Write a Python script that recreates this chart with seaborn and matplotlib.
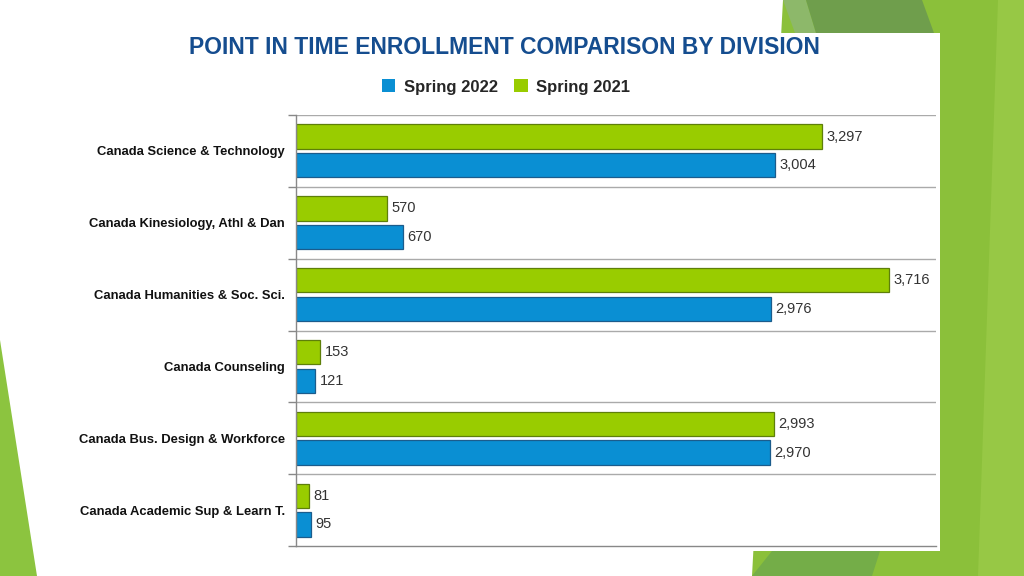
import matplotlib
matplotlib.use("Agg")
import matplotlib.pyplot as plt
import seaborn as sns
import pandas as pd
import numpy as np
from matplotlib.patches import Polygon, Rectangle, Patch

divisions = [
    "Canada Science & Technology",
    "Canada Kinesiology, Athl & Dan",
    "Canada Humanities & Soc. Sci.",
    "Canada Counseling",
    "Canada Bus. Design & Workforce",
    "Canada Academic Sup & Learn T.",
]
spring_2022 = [3004, 670, 2976, 121, 2970, 95]
spring_2021 = [3297, 570, 3716, 153, 2993, 81]
series_names = ["Spring 2022", "Spring 2021"]
colors = {"Spring 2022": "#0A8FD3", "Spring 2021": "#99CC00"}
edges = {"Spring 2022": "#1B5C8C", "Spring 2021": "#5E7F0A"}

df = pd.DataFrame({
    "Division": divisions * 2,
    "Term": ["Spring 2021"] * len(divisions) + ["Spring 2022"] * len(divisions),
    "Enrollment": spring_2021 + spring_2022,
})

sns.set_theme(style="white")
plt.rcParams["font.family"] = ["Liberation Sans", "DejaVu Sans"]

W, H = 1024, 576
fig = plt.figure(figsize=(W / 100, H / 100), dpi=100)
fig.patch.set_facecolor("white")

def px(pts):
    return [(x / W, 1 - y / H) for x, y in pts]

# slide decorations
deco = [
    ([(783, 0), (1024, 0), (1024, 576), (752, 576)], "#8BC03A"),
    ([(783, 0), (806, 0), (816, 33), (795, 33)], "#8DB86A"),
    ([(806, 0), (922, 0), (934, 33), (816, 33)], "#6F9E4C"),
    ([(998, 0), (1024, 0), (1024, 576), (978, 576)], "#97C845"),
    ([(752, 576), (772, 551), (880, 551), (872, 576)], "#74AD48"),
    ([(0, 340), (37, 576), (0, 576)], "#8CC43F"),
]
for pts, c in deco:
    fig.add_artist(Polygon(px(pts), closed=True, transform=fig.transFigure,
                           facecolor=c, edgecolor="none", zorder=0))
fig.add_artist(Rectangle((40 / W, 1 - 551 / H), (940 - 40) / W, (551 - 33) / H,
                         transform=fig.transFigure, facecolor="white",
                         edgecolor="none", zorder=0.5))

ax = fig.add_axes([296 / W, 1 - 546 / H, (936 - 296) / W, (546 - 115) / H])
ax.set_zorder(2)
ax.patch.set_alpha(0)

sns.barplot(data=df, y="Division", x="Enrollment", hue="Term",
            hue_order=["Spring 2021", "Spring 2022"],
            order=divisions, palette=colors, orient="h", saturation=1,
            width=0.8, gap=0.15, ax=ax, legend=False)

for cont, term in zip(ax.containers, ["Spring 2021", "Spring 2022"]):
    for bar in cont:
        bar.set_edgecolor(edges[term])
        bar.set_linewidth(0.9)
    ax.bar_label(cont, labels=[f"{v.get_width():,.0f}" for v in cont],
                 padding=3, fontsize=10.5, color="#333333")

ax.set_xlim(0, 4010)
ax.set_ylim(len(divisions) - 0.5, -0.5)
ax.set_xlabel("")
ax.set_ylabel("")
ax.set_xticks([])
for s in ["top", "right"]:
    ax.spines[s].set_visible(False)
ax.spines["left"].set_color("#888888")
ax.spines["bottom"].set_color("#888888")
ax.spines["left"].set_linewidth(1)
ax.spines["bottom"].set_linewidth(1)

bounds = np.arange(-0.5, len(divisions), 1.0)
for b in bounds[:-1]:
    ax.axhline(b, color="#AAAAAA", lw=1, zorder=0)
ax.set_yticks(bounds, minor=True)
ax.tick_params(axis="y", which="minor", length=6, color="#888888", width=1, left=True)
ax.tick_params(axis="y", which="major", length=0, pad=8)
for lbl in ax.get_yticklabels():
    lbl.set_fontweight("bold")
    lbl.set_fontsize(9.4)
    lbl.set_color("#111111")

fig.text(504 / W, 1 - 48 / H, "POINT IN TIME ENROLLMENT COMPARISON BY DIVISION",
         ha="center", va="center", fontsize=16.5, fontweight="bold",
         color="#154D8F")

handles = [Patch(facecolor=colors[n], edgecolor="none") for n in series_names]
fig.legend(handles, series_names, loc="center", bbox_to_anchor=(506 / W, 1 - 87 / H),
           ncol=2, frameon=False, prop={"weight": "bold", "size": 12},
           handlelength=0.8, handleheight=0.8, handletextpad=0.5, columnspacing=1.0)

fig.savefig("out.png", dpi=100, facecolor=fig.get_facecolor())
